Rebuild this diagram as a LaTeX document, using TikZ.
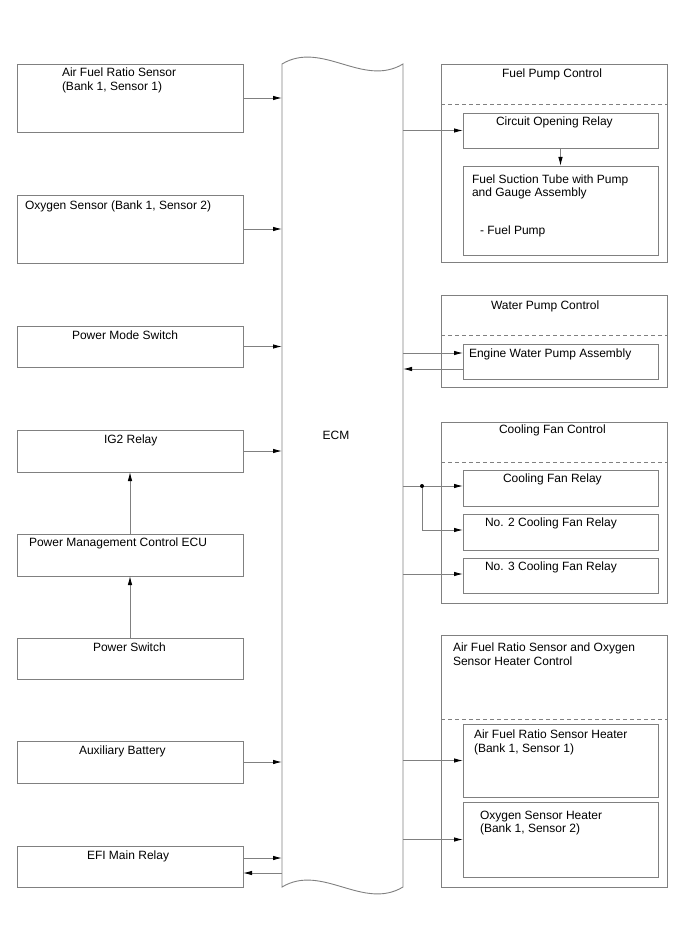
\documentclass[tikz,border=0pt]{standalone}
\usepackage{fontspec}
\setmainfont{Liberation Sans}
\usetikzlibrary{arrows.meta}
\definecolor{lg}{RGB}{128,128,128}
\newcommand\mybox[5]{\node[box,minimum width={(#4-#2)*1pt},minimum height={(#5-#3)*1pt}] (#1) at (#2,#3) {};}
\begin{document}
\begin{tikzpicture}[x=1pt,y=-1pt,
  box/.style={draw=lg, line width=0.9pt, anchor=north west, inner sep=0pt, outer sep=0pt},
  txt/.style={anchor=base west, inner sep=0pt, outer sep=0pt, font=\fontsize{12}{14}\selectfont},
  arr/.style={draw=lg, line width=0.9pt, -{Latex[length=9pt,width=4.5pt,color=black]}},
  dsh/.style={draw=lg, line width=0.9pt, dash pattern=on 4pt off 3pt}]
\useasboundingbox (0,0) rectangle (688,949);
% ECM
\node[anchor=north west, minimum width=121pt, minimum height=823pt, inner sep=0pt, outer sep=0pt] (ecm) at (282,64) {};
\draw[lg, line width=0.9pt] (282,64) .. controls (322,40) and (363,88) .. (403,64)
  -- (403,887) .. controls (363,911) and (322,863) .. (282,887) -- cycle;
\node[txt, anchor=base] (ecmt) at (336,439) {ECM};
% left boxes
\mybox{afr}{17}{64}{243}{132}
\mybox{o2}{17}{195}{243}{263}
\mybox{pms}{17}{326}{243}{367}
\mybox{ig2}{17}{430}{243}{472}
\mybox{pmc}{17}{534}{243}{576}
\mybox{psw}{17}{638}{243}{679}
\mybox{aux}{17}{741}{243}{783}
\mybox{efi}{17}{846}{243}{887}
\node[txt] (afrt1) at (62,77) {Air Fuel Ratio Sensor};
\node[txt] (afrt2) at (62,91) {(Bank 1, Sensor 1)};
\node[txt] (o2t) at (25,210) {Oxygen Sensor (Bank 1, Sensor 2)};
\node[txt] (pmst) at (72,339) {Power Mode Switch};
\node[txt] (ig2t) at (104,443) {IG2 Relay};
\node[txt] (pmct) at (29,546) {Power Management Control ECU};
\node[txt] (pswt) at (93,651) {Power Switch};
\node[txt] (auxt) at (79,754) {Auxiliary Battery};
\node[txt] (efit) at (87,859) {EFI Main Relay};
% left arrows
\draw[arr] (afr.east) -- (afr.east -| ecm.west);
\draw[arr] (o2.east) -- (o2.east -| ecm.west);
\draw[arr] (pms.east) -- (pms.east -| ecm.west);
\draw[arr] (ig2.east) -- (ig2.east -| ecm.west);
\draw[arr] (aux.east) -- (aux.east -| ecm.west);
\draw[arr] (efi.east |- 0,858) -- (ecm.west |- 0,858);
\draw[arr] (ecm.west |- 0,873) -- (efi.east |- 0,873);
\draw[arr] (pmc.north) -- (ig2.south);
\draw[arr] (psw.north) -- (pmc.south);
% right outer boxes
\mybox{fpc}{441}{64}{667}{262}
\mybox{wpc}{441}{295}{667}{387}
\mybox{cfc}{441}{422}{667}{603}
\mybox{hcc}{441}{635}{667}{887}
\draw[dsh] (fpc.west |- 0,104) -- (fpc.east |- 0,104);
\draw[dsh] (wpc.west |- 0,335) -- (wpc.east |- 0,335);
\draw[dsh] (cfc.west |- 0,462) -- (cfc.east |- 0,462);
\draw[dsh] (hcc.west |- 0,719) -- (hcc.east |- 0,719);
% inner boxes
\mybox{cor}{463}{113}{658}{148}
\mybox{fst}{463}{166}{658}{255}
\mybox{ewp}{463}{344}{658}{379}
\mybox{cfr}{463}{470}{658}{506}
\mybox{cf2}{463}{514}{658}{550}
\mybox{cf3}{463}{558}{658}{593}
\mybox{afh}{463}{724}{658}{797}
\mybox{o2h}{463}{802}{658}{877}
\node[txt] (fpct) at (502,78) {Fuel Pump Control};
\node[txt] (cort) at (496,126) {Circuit Opening Relay};
\node[txt] (fstt1) at (472,184) {Fuel Suction Tube with Pump};
\node[txt] (fstt2) at (472,197) {and Gauge Assembly};
\node[txt] (fstt3) at (480,235) {- Fuel Pump};
\node[txt] (wpct) at (491,309) {Water Pump Control};
\node[txt] (ewpt) at (469,357) {Engine Water Pump Assembly};
\node[txt] (cfct) at (499,433) {Cooling Fan Control};
\node[txt] (cfrt) at (503,482) {Cooling Fan Relay};
\node[txt] (cf2t) at (485,526) {No. 2 Cooling Fan Relay};
\node[txt] (cf3t) at (485,570) {No. 3 Cooling Fan Relay};
\node[txt] (hcct1) at (453,651) {Air Fuel Ratio Sensor and Oxygen};
\node[txt] (hcct2) at (453,665) {Sensor Heater Control};
\node[txt] (afht1) at (474,738) {Air Fuel Ratio Sensor Heater};
\node[txt] (afht2) at (474,752) {(Bank 1, Sensor 1)};
\node[txt] (o2ht1) at (480,819) {Oxygen Sensor Heater};
\node[txt] (o2ht2) at (480,832) {(Bank 1, Sensor 2)};
% right arrows
\draw[arr] (ecm.east |- cor.west) -- (cor.west);
\draw[arr] (cor.south) -- (fst.north);
\draw[arr] (ecm.east |- 0,353) -- (ewp.west |- 0,353);
\draw[arr] (ewp.west |- 0,369) -- (ecm.east |- 0,369);
\coordinate (jn) at (422,486);
\draw[arr] (ecm.east |- jn) -- (cfr.west |- jn);
\draw[arr] (jn) -- (jn |- 0,530) -- (cf2.west |- 0,530);
\fill[black] (jn) circle (2pt);
\draw[arr] (ecm.east |- 0,574) -- (cf3.west |- 0,574);
\draw[arr] (ecm.east |- afh.west) -- (afh.west);
\draw[arr] (ecm.east |- o2h.west) -- (o2h.west);
\end{tikzpicture}
\end{document}
